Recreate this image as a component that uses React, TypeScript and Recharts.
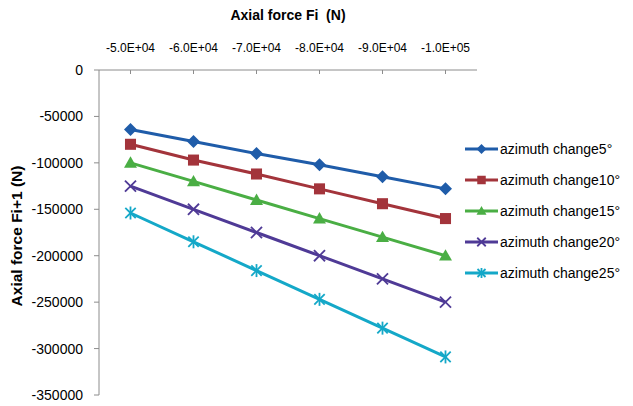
import React from "react";
import { LineChart, Line, XAxis, YAxis } from "recharts";

const categories = ["-5.0E+04", "-6.0E+04", "-7.0E+04", "-8.0E+04", "-9.0E+04", "-1.0E+05"];
const az5 = [-64000, -77000, -90000, -102000, -115000, -128000];
const az10 = [-80000, -97000, -112000, -128000, -144000, -160000];
const az15 = [-100000, -120000, -140000, -160000, -180000, -200000];
const az20 = [-125000, -150000, -175000, -200000, -225000, -250000];
const az25 = [-154000, -185000, -216000, -247000, -278000, -309000];
const yTicks = [0, -50000, -100000, -150000, -200000, -250000, -300000, -350000];

type Shape = "diamond" | "square" | "triangle" | "cross" | "star";

const series: { key: string; name: string; color: string; shape: Shape; values: number[] }[] = [
  { key: "a5", name: "azimuth change5°", color: "#1F5CA9", shape: "diamond", values: az5 },
  { key: "a10", name: "azimuth change10°", color: "#A3343B", shape: "square", values: az10 },
  { key: "a15", name: "azimuth change15°", color: "#4AAE44", shape: "triangle", values: az15 },
  { key: "a20", name: "azimuth change20°", color: "#4F3A96", shape: "cross", values: az20 },
  { key: "a25", name: "azimuth change25°", color: "#14A8C8", shape: "star", values: az25 },
];

const data = categories.map((c, i) => {
  const row: Record<string, string | number> = { fi: c };
  series.forEach((s) => (row[s.key] = s.values[i]));
  return row;
});

const FONT = "'Liberation Sans', Arial, sans-serif";

function Marker({ shape, color, cx, cy, r }: { shape: Shape; color: string; cx: number; cy: number; r: number }) {
  switch (shape) {
    case "diamond":
      return <polygon points={`${cx},${cy - r} ${cx + r},${cy} ${cx},${cy + r} ${cx - r},${cy}`} fill={color} />;
    case "square":
      return <rect x={cx - r * 0.85} y={cy - r * 0.85} width={r * 1.7} height={r * 1.7} fill={color} />;
    case "triangle":
      return <polygon points={`${cx},${cy - r} ${cx + r},${cy + r * 0.75} ${cx - r},${cy + r * 0.75}`} fill={color} />;
    case "cross":
      return (
        <g stroke={color} strokeWidth={1.8}>
          <line x1={cx - r * 0.85} y1={cy - r * 0.85} x2={cx + r * 0.85} y2={cy + r * 0.85} />
          <line x1={cx - r * 0.85} y1={cy + r * 0.85} x2={cx + r * 0.85} y2={cy - r * 0.85} />
        </g>
      );
    default:
      return (
        <g stroke={color} strokeWidth={1.8}>
          <line x1={cx - r * 0.8} y1={cy - r * 0.8} x2={cx + r * 0.8} y2={cy + r * 0.8} />
          <line x1={cx - r * 0.8} y1={cy + r * 0.8} x2={cx + r * 0.8} y2={cy - r * 0.8} />
          <line x1={cx} y1={cy - r} x2={cx} y2={cy + r} />
        </g>
      );
  }
}

function TopTick(props: any) {
  const { x, y, payload } = props;
  return (
    <g>
      <line x1={x} y1={y} x2={x} y2={y + 4} stroke="#8C8C8C" />
      <text x={x} y={y - 18} textAnchor="middle" fontSize={12} fontFamily={FONT} fill="#000">
        {payload.value}
      </text>
    </g>
  );
}

export default function App() {
  return (
    <div style={{ position: "relative", width: 633, height: 406, background: "#fff" }}>
      <style>{"html,body{margin:0;padding:0;overflow:hidden;background:#fff}"}</style>
      <LineChart
        width={633}
        height={406}
        data={data}
        margin={{ top: 0, right: 156, bottom: 11, left: 0 }}
        style={{ overflow: "visible" }}
      >
        <XAxis
          dataKey="fi"
          orientation="top"
          height={70}
          padding={{ left: 31.5, right: 31.5 }}
          stroke="#8C8C8C"
          tickSize={0}
          tickMargin={0}
          tick={<TopTick />}
          interval={0}
          label={{
            content: () => (
              <text x={288} y={20} textAnchor="middle" fontSize={14} fontWeight="bold" fontFamily={FONT} fill="#000">
                {"Axial force Fi\u00a0 (N)"}
              </text>
            ),
          }}
        />
        <YAxis
          width={99}
          domain={[-350000, 0]}
          ticks={yTicks}
          interval={0}
          stroke="#8C8C8C"
          tickSize={5}
          tickMargin={11}
          tick={{ fontSize: 14, fontFamily: FONT, fill: "#000" }}
          label={{
            content: () => (
              <text
                x={22}
                y={236}
                transform="rotate(-90 22 236)"
                textAnchor="middle"
                fontSize={15.5}
                fontWeight="bold"
                fontFamily={FONT}
                fill="#000"
              >
                Axial force Fi+1 (N)
              </text>
            ),
          }}
        />
        {series.map((s) => (
          <Line
            key={s.key}
            dataKey={s.key}
            name={s.name}
            stroke={s.color}
            strokeWidth={3}
            isAnimationActive={false}
            dot={(p: any) => <Marker key={`${s.key}-${p.index}`} shape={s.shape} color={s.color} cx={p.cx} cy={p.cy} r={6.5} />}
            activeDot={false}
          />
        ))}
      </LineChart>
      <div style={{ position: "absolute", left: 464, top: 133, fontFamily: FONT, fontSize: 14, color: "#000" }}>
        {series.map((s) => (
          <div key={s.key} style={{ display: "flex", alignItems: "center", height: 31 }}>
            <svg width={35} height={14} style={{ marginRight: 1 }}>
              <line x1={1} y1={7} x2={34} y2={7} stroke={s.color} strokeWidth={3} />
              <Marker shape={s.shape} color={s.color} cx={17.5} cy={7} r={5} />
            </svg>
            <span>{s.name}</span>
          </div>
        ))}
      </div>
    </div>
  );
}
